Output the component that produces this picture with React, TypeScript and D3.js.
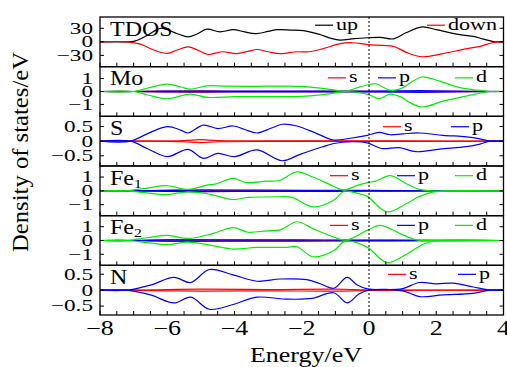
import * as d3 from "d3";

type Pt = [number, number];

// energy axis
const energyDomain: [number, number] = [-8, 4];
const energyTicks = [-8, -6, -4, -2, 0, 2, 4];

// TDOS (states/eV)
const tdosUp: Pt[] = [[-8,0],[-7.3,0],[-7.0,1],[-6.6,14],[-6.2,30],[-5.7,18],[-5.38,11],[-5.1,18],[-4.82,28],[-4.43,22],[-4.04,27],[-3.7,22],[-3.39,18],[-3.0,23],[-2.73,27],[-2.3,26],[-1.95,25],[-1.5,17],[-1.1,7],[-0.86,4],[-0.45,7],[-0.05,9],[0.33,10],[0.73,6.5],[1.1,20],[1.58,33],[2.0,27],[2.42,20],[2.8,15],[3.1,12],[3.4,6],[3.7,0.5],[4,0]];
const tdosDown: Pt[] = [[-8,0],[-7.2,0],[-6.8,-5],[-6.4,-18],[-6.0,-25.6],[-5.7,-18],[-5.38,-11],[-5.1,-18],[-4.79,-28],[-4.37,-22],[-3.93,-26],[-3.6,-21],[-3.33,-17],[-3.0,-22],[-2.64,-26],[-2.14,-22],[-1.78,-22],[-1.36,-15],[-0.86,-4],[-0.48,-2],[-0.05,-6],[0.4,-8],[0.73,-10],[1.13,-24],[1.58,-33],[2.2,-26],[2.92,-15],[3.31,-10],[3.66,-2],[4,0]];

// Mo
const moSUp: Pt[] = [[-8,0],[-7,0],[-6,0.03],[-5,0.05],[-4,0.02],[-2,0.02],[0,0.01],[2,0.01],[4,0]];
const moSDown: Pt[] = [[-8,0],[-7,0],[-6,-0.03],[-5,-0.05],[-4,-0.02],[-2,-0.02],[0,-0.01],[2,-0.01],[4,0]];
const moPUp: Pt[] = [[-8,0],[-7,0],[-6,0.03],[-4,0.03],[-2,0.03],[0,0.03],[1.5,0.06],[3,0.02],[4,0]];
const moPDown: Pt[] = [[-8,0],[-7,0],[-6,-0.03],[-4,-0.03],[-2,-0.03],[0,-0.03],[1.5,-0.06],[3,-0.02],[4,0]];
const moDUp: Pt[] = [[-8,0],[-7.0,0],[-6.6,0.25],[-6.0,0.57],[-5.6,0.35],[-5.32,0.18],[-4.82,0.44],[-4.3,0.42],[-3.5,0.4],[-2.5,0.42],[-2.0,0.4],[-1.5,0.28],[-1.05,0.13],[-0.7,0.02],[-0.4,0.25],[-0.05,0.5],[0.2,0.6],[0.63,0.1],[0.93,0.2],[1.25,0.7],[1.58,1.12],[2.1,0.8],[2.7,0.3],[3.1,0.15],[3.6,0],[4,0]];
const moDDown: Pt[] = [[-8,0],[-7.0,0],[-6.6,-0.25],[-6.0,-0.56],[-5.32,-0.2],[-4.82,-0.45],[-4,-0.4],[-3,-0.4],[-2,-0.38],[-1.5,-0.28],[-1.05,-0.13],[-0.7,0],[-0.05,-0.2],[0.3,-0.55],[0.63,-0.2],[0.93,-0.4],[1.25,-0.9],[1.58,-1.2],[2.2,-0.75],[2.9,-0.35],[3.6,0],[4,0]];

// S
const sSUp: Pt[] = [[-8,0],[-6.5,0],[-5.5,0.02],[-5,0.05],[-4.5,0.02],[-3,0.01],[-1,0.01],[1,0.01],[4,0]];
const sSDown: Pt[] = [[-8,0],[-6.5,0],[-5.5,-0.02],[-5,-0.05],[-4.5,-0.02],[-3,-0.01],[-1,-0.01],[1,-0.01],[4,0]];
const sPUp: Pt[] = [[-8,0],[-7.1,0],[-6.6,0.25],[-6.0,0.5],[-5.6,0.38],[-5.38,0.28],[-4.93,0.55],[-4.5,0.43],[-4.04,0.52],[-3.7,0.4],[-3.33,0.28],[-2.9,0.45],[-2.58,0.58],[-2.14,0.52],[-1.55,0.26],[-1.05,0.04],[-0.55,0.1],[-0.05,0.2],[0.3,0.3],[0.63,0.22],[1.0,0.25],[1.5,0.28],[2.2,0.2],[2.9,0.15],[3.3,0.08],[3.6,0],[4,0]];
const sPDown: Pt[] = [[-8,0],[-7.1,0],[-6.6,-0.25],[-6.0,-0.53],[-5.38,-0.28],[-4.93,-0.59],[-4.5,-0.42],[-4.0,-0.53],[-3.33,-0.3],[-2.58,-0.67],[-2.05,-0.45],[-1.4,-0.2],[-1.05,-0.08],[-0.5,-0.02],[-0.05,-0.06],[0.37,-0.25],[0.9,-0.22],[1.4,-0.36],[2.1,-0.27],[2.9,-0.19],[3.3,-0.1],[3.6,0],[4,0]];

// Fe1
const fe1SUp: Pt[] = [[-8,0],[-7,0],[-6,0.04],[-5,0.06],[-4.5,0.03],[-3,0.01],[0,0.01],[4,0]];
const fe1SDown: Pt[] = [[-8,0],[-7,0],[-6,-0.04],[-5,-0.06],[-4.5,-0.03],[-3,-0.01],[0,-0.01],[4,0]];
const fe1PUp: Pt[] = [[-8,0],[-7,0],[-6,0.04],[-4,0.05],[-2,0.04],[0,0.03],[1.5,0.01],[4,0]];
const fe1PDown: Pt[] = [[-8,0],[-7,0],[-6,-0.04],[-4,-0.05],[-2,-0.04],[0,-0.03],[1.5,-0.01],[4,0]];
const fe1DUp: Pt[] = [[-8,0],[-7.2,0],[-6.6,0.2],[-6.0,0.37],[-5.38,0.1],[-4.82,0.41],[-4.55,0.5],[-4.04,0.9],[-3.65,0.6],[-3.05,0.7],[-2.67,0.75],[-2.14,1.38],[-1.67,1.0],[-1.05,0.33],[-0.75,0.05],[-0.35,0.4],[-0.05,0.6],[0.2,0.7],[0.63,1.1],[1.13,0.5],[1.5,0.1],[1.9,0],[4,0]];
const fe1DDown: Pt[] = [[-8,0],[-7.2,0],[-6.6,-0.15],[-6.0,-0.27],[-5.38,-0.07],[-4.82,-0.2],[-4.04,-0.63],[-3.6,-0.48],[-2.67,-0.43],[-2.3,-0.45],[-1.67,-1.16],[-1.05,-0.68],[-0.75,-0.05],[-0.3,-0.2],[-0.05,-0.4],[0.53,-1.52],[1.13,-0.9],[1.5,-0.4],[1.9,-0.1],[2.4,0],[4,0]];

// Fe2
const fe2SUp: Pt[] = [[-8,0],[-7,0],[-6,0.04],[-5,0.05],[-4.5,0.02],[-3,0.01],[0,0.01],[4,0]];
const fe2SDown: Pt[] = [[-8,0],[-7,0],[-6,-0.04],[-5,-0.05],[-4.5,-0.02],[-3,-0.01],[0,-0.01],[4,0]];
const fe2PUp: Pt[] = [[-8,0],[-7,0],[-6,0.04],[-4,0.05],[-2,0.04],[0,0.03],[1.5,0.01],[4,0]];
const fe2PDown: Pt[] = [[-8,0],[-7,0],[-6,-0.04],[-4,-0.05],[-2,-0.04],[0,-0.03],[1.5,-0.01],[4,0]];
const fe2DUp: Pt[] = [[-8,0],[-7.2,0],[-6.6,0.2],[-6.0,0.37],[-5.38,0.15],[-4.65,0.5],[-4.04,0.94],[-3.6,0.6],[-3.05,0.7],[-2.64,0.77],[-2.14,1.36],[-1.67,0.86],[-1.05,0.25],[-0.7,0.02],[-0.05,0.74],[0.33,1.1],[0.93,0.5],[1.4,0.05],[1.8,0],[4,0]];
const fe2DDown: Pt[] = [[-8,0],[-7.2,0],[-6.6,-0.15],[-6.0,-0.3],[-5.38,-0.12],[-4.65,-0.37],[-4.04,-0.62],[-3.33,-0.5],[-2.5,-0.5],[-2.14,-0.45],[-1.67,-1.18],[-1.05,-0.74],[-0.7,-0.05],[-0.05,-0.5],[0.53,-1.6],[1.13,-0.98],[1.63,-0.25],[2.1,0],[4,0]];

// N
const nSUp: Pt[] = [[-8,0],[-7,0],[-6,0.02],[-5,0.03],[-3,0.02],[-1,0.03],[0,0.01],[4,0]];
const nSDown: Pt[] = [[-8,0],[-7,0],[-6,-0.02],[-5,-0.03],[-3,-0.02],[-1,-0.03],[0,-0.01],[4,0]];
const nPUp: Pt[] = [[-8,0],[-7.2,0],[-6.5,0.16],[-5.8,0.4],[-5.3,0.24],[-4.75,0.65],[-4.04,0.48],[-3.33,0.28],[-2.64,0.35],[-1.85,0.33],[-1.45,0.2],[-1.05,0.06],[-0.65,0.4],[-0.35,0.16],[-0.05,0.04],[0.5,0.02],[1.0,0.05],[1.5,0.24],[2.0,0.2],[2.5,0.22],[3.1,0.1],[3.6,0],[4,0]];
const nPDown: Pt[] = [[-8,0],[-7.2,0],[-6.5,-0.15],[-5.8,-0.4],[-5.3,-0.22],[-4.75,-0.6],[-4.04,-0.45],[-3.33,-0.22],[-2.5,-0.28],[-1.7,-0.26],[-1.05,-0.08],[-0.65,-0.4],[-0.3,-0.12],[0,0],[1.0,-0.02],[1.5,-0.2],[2.2,-0.15],[3.1,-0.1],[3.6,0],[4,0]];

const RED = "#ff0000";
const BLUE = "#0000ff";
const GREEN = "#00ee00";

type Series = { name: string; color: string; curves: Pt[][] };
type Panel = { label: string; sub?: string; ext: number; ticks: number[]; series: Series[]; legendX: number[]; legendDy: number };

const panels: Panel[] = [
  { label: "TDOS", ext: 55, ticks: [-30, 0, 30], legendX: [315, 427], legendDy: 12.5,
    series: [{ name: "up", color: "#000", curves: [tdosUp] }, { name: "down", color: RED, curves: [tdosDown] }] },
  { label: "Mo", ext: 1.92, ticks: [-1, 0, 1], legendX: [328, 378, 455], legendDy: 15.5,
    series: [{ name: "s", color: RED, curves: [moSUp, moSDown] }, { name: "p", color: BLUE, curves: [moPUp, moPDown] }, { name: "d", color: GREEN, curves: [moDUp, moDDown] }] },
  { label: "S", ext: 0.85, ticks: [-0.5, 0, 0.5], legendX: [383, 451], legendDy: 14.7,
    series: [{ name: "s", color: RED, curves: [sSUp, sSDown] }, { name: "p", color: BLUE, curves: [sPUp, sPDown] }] },
  { label: "Fe", sub: "1", ext: 1.8, ticks: [-1, 0, 1], legendX: [330, 397, 455], legendDy: 14,
    series: [{ name: "s", color: RED, curves: [fe1SUp, fe1SDown] }, { name: "p", color: BLUE, curves: [fe1PUp, fe1PDown] }, { name: "d", color: GREEN, curves: [fe1DUp, fe1DDown] }] },
  { label: "Fe", sub: "2", ext: 1.8, ticks: [-1, 0, 1], legendX: [330, 397, 455], legendDy: 14,
    series: [{ name: "s", color: RED, curves: [fe2SUp, fe2SDown] }, { name: "p", color: BLUE, curves: [fe2PUp, fe2PDown] }, { name: "d", color: GREEN, curves: [fe2DUp, fe2DDown] }] },
  { label: "N", ext: 0.78, ticks: [-0.5, 0, 0.5], legendX: [388, 458], legendDy: 13.3,
    series: [{ name: "s", color: RED, curves: [nSUp, nSDown] }, { name: "p", color: BLUE, curves: [nPUp, nPDown] }] },
];

const W = 507, H = 367;
const left = 100, right = 503.5, top = 17, bottom = 315;
const panelH = (bottom - top) / panels.length;
const FONT = "'Liberation Serif', 'Times New Roman', serif";

const fmt = (v: number) => (v < 0 ? "\u2212" + String(-v) : String(v));

export default function App() {
  const x = d3.scaleLinear().domain(energyDomain).range([left, right]);
  const minor = d3.range(-8, 4.001, 0.5);

  return (
    <svg width={W} height={H} style={{ position: "absolute", left: 0, top: 0, background: "#fff" }} fontFamily={FONT}>
      <defs>
        {panels.map((p, i) => (
          <clipPath key={i} id={`clip${i}`}>
            <rect x={left} y={top + i * panelH} width={right - left} height={panelH} />
          </clipPath>
        ))}
      </defs>
      {panels.map((p, i) => {
        const y0 = top + i * panelH;
        const y = d3.scaleLinear().domain([-p.ext, p.ext]).range([y0 + panelH, y0]);
        const line = d3.line<Pt>().x(d => x(d[0])).y(d => y(d[1])).curve(d3.curveCatmullRom.alpha(0.5));
        return (
          <g key={i}>
            <g clipPath={`url(#clip${i})`}>
              {p.series.map(s => s.curves.map((c, j) => (
                <path key={s.name + j} d={line(c) ?? ""} fill="none" stroke={s.color} strokeWidth={1.2} />
              )))}
            </g>
            {/* x minor ticks */}
            {minor.map(e => (
              <line key={e} x1={x(e)} x2={x(e)} y1={y0 + panelH} y2={y0 + panelH - 4} stroke="#000" strokeWidth={1} />
            ))}
            {/* y ticks */}
            {p.ticks.map(t => (
              <g key={t}>
                <line x1={left} x2={left + 4} y1={y(t)} y2={y(t)} stroke="#000" strokeWidth={1} />
                <line x1={right - 4} x2={right} y1={y(t)} y2={y(t)} stroke="#000" strokeWidth={1} />
                <text transform={`translate(93,${y(t) + 5.4}) scale(1.45,1)`} textAnchor="end" fontSize={16}>{fmt(t)}</text>
              </g>
            ))}
            {/* panel label */}
            <text transform={`translate(${left + 10},${y0 + 18.5}) scale(1.2,1)`} fontSize={20}>
              {p.label}
              {p.sub && <tspan fontSize={13} dy={3}>{p.sub}</tspan>}
            </text>
            {/* legend */}
            {p.series.map((s, j) => {
              const lx = p.legendX[j];
              const ly = y0 + p.legendDy;
              return (
                <g key={s.name}>
                  <line x1={lx} x2={lx + 18} y1={ly - 4.3} y2={ly - 4.3} stroke={s.color} strokeWidth={1.2} />
                  <text transform={`translate(${lx + 21},${ly}) scale(1.3,1)`} fontSize={17}>{s.name}</text>
                </g>
              );
            })}
            <rect x={left} y={y0} width={right - left} height={panelH} fill="none" stroke="#000" strokeWidth={1.3} />
          </g>
        );
      })}
      {/* Fermi level */}
      <line x1={x(0)} x2={x(0)} y1={top} y2={bottom} stroke="#000" strokeWidth={1} strokeDasharray="2,2" />
      {/* x tick labels */}
      {energyTicks.map(e => (
        <text key={e} transform={`translate(${x(e)},335) scale(1.3,1)`} textAnchor="middle" fontSize={20}>{fmt(e)}</text>
      ))}
      <text transform="translate(306,361.5) scale(1.3,1)" textAnchor="middle" fontSize={20}>Energy/eV</text>
      <text transform="translate(28,152) rotate(-90)" textAnchor="middle" fontSize={23} textLength={200} lengthAdjust="spacingAndGlyphs">Density of states/eV</text>
    </svg>
  );
}
